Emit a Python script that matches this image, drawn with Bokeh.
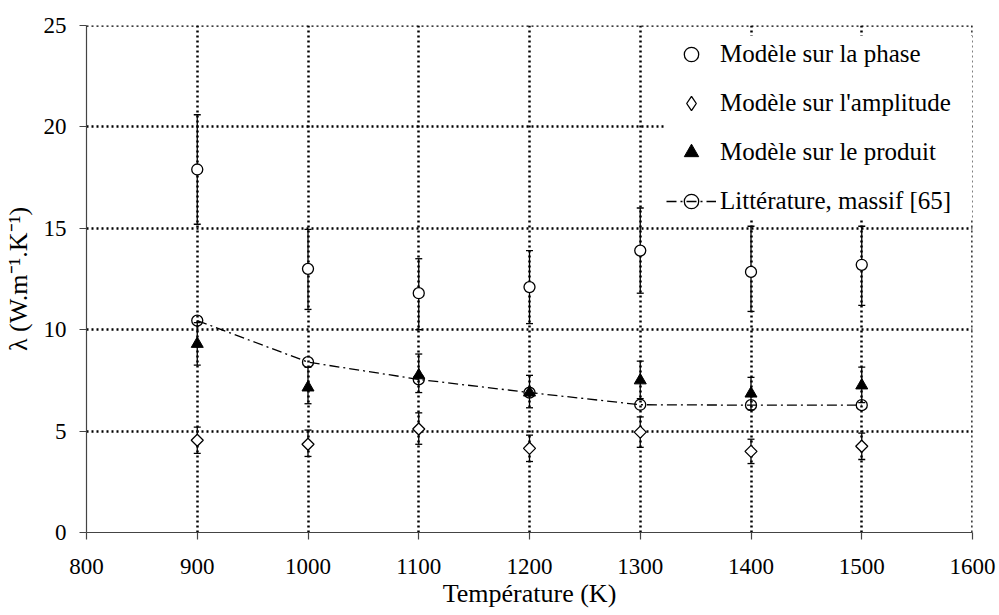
import numpy as np
from bokeh.plotting import figure
from bokeh.models import (Range1d, SingleIntervalTicker, ColumnDataSource, Whisker,
                          TeeHead, Legend, LegendItem, Span)
from bokeh.embed import file_html
from bokeh.resources import INLINE

# ---- data ----
temperature = [900, 1000, 1100, 1200, 1300, 1400, 1500]

phase = [17.9, 13.0, 11.8, 12.1, 13.9, 12.85, 13.2]
phase_lo = [15.2, 11.0, 10.0, 10.3, 11.8, 10.9, 11.2]
phase_hi = [20.6, 14.95, 13.5, 13.9, 16.0, 15.1, 15.1]

amplitude = [4.55, 4.35, 5.1, 4.15, 4.95, 4.0, 4.25]
amplitude_lo = [3.9, 3.75, 4.35, 3.5, 4.2, 3.4, 3.6]
amplitude_hi = [5.2, 5.05, 5.9, 4.8, 5.7, 4.6, 4.9]

produit = [9.3, 7.15, 7.75, 6.9, 7.5, 6.85, 7.25]
produit_lo = [8.25, 6.35, 6.9, 6.15, 6.6, 6.05, 6.4]
produit_hi = [10.35, 8.15, 8.8, 7.75, 8.45, 7.65, 8.15]

litterature = [10.45, 8.4, 7.55, 6.9, 6.3, 6.28, 6.28]

x_start, x_end, x_step = 800, 1600, 100
y_start, y_end, y_step = 0, 25, 5

FONT = "'Liberation Serif', 'Times New Roman', serif"
GRID_DASH = "2 3"
GRID_W = 2.5

p = figure(width=999, height=615,
           x_range=Range1d(x_start, x_end), y_range=Range1d(y_start, y_end),
           output_backend="svg", toolbar_location=None,
           min_border_left=86, min_border_right=27,
           min_border_top=25, min_border_bottom=83,
           outline_line_color=None,
           background_fill_color="white", border_fill_color="white")

p.xaxis.ticker = SingleIntervalTicker(interval=x_step)
p.yaxis.ticker = SingleIntervalTicker(interval=y_step)

for ax in (p.xaxis, p.yaxis):
    ax.axis_line_color = "#444444"
    ax.axis_line_width = 1.2
    ax.major_tick_line_color = "#444444"
    ax.major_tick_line_width = 1.2
    ax.major_tick_out = 7
    ax.major_tick_in = 0
    ax.minor_tick_line_color = None
    ax.major_label_text_font = FONT
    ax.major_label_text_font_size = "23px"
    ax.major_label_text_color = "black"
    ax.axis_label_text_font = FONT
    ax.axis_label_text_font_size = "26px"
    ax.axis_label_text_font_style = "normal"
    ax.axis_label_text_color = "black"

p.xaxis.axis_label = "Température (K)"
p.yaxis.axis_label = "λ (W.m⁻¹.K⁻¹)"
p.xaxis.major_label_standoff = 19
p.xaxis.axis_label_standoff = 2
p.yaxis.major_label_standoff = 13
p.yaxis.axis_label_standoff = 8

for g in (p.xgrid, p.ygrid):
    g.grid_line_color = "black"
    g.grid_line_width = GRID_W
    g.grid_line_dash = GRID_DASH

# right-hand gridline at the range end (hidden by the legend box)
p.add_layout(Span(location=x_end, dimension="height", line_color="black",
                  line_width=GRID_W, line_dash=GRID_DASH, level="underlay"))

# ---- error bars ----
def add_whisker(lo, hi):
    src = ColumnDataSource(dict(x=temperature, lo=lo, hi=hi))
    w = Whisker(source=src, base="x", lower="lo", upper="hi", dimension="height",
                line_color="black", line_width=1.3, level="underlay",
                upper_head=TeeHead(size=7, line_color="black", line_width=1.3),
                lower_head=TeeHead(size=7, line_color="black", line_width=1.3))
    p.add_layout(w)

add_whisker(phase_lo, phase_hi)
add_whisker(amplitude_lo, amplitude_hi)
add_whisker(produit_lo, produit_hi)

# ---- series ----
r_lit_line = p.line(temperature, litterature, line_color="black", line_width=1.3,
                    line_dash="10 4 2 4")
r_lit_pts = p.scatter(temperature, litterature, marker="circle", size=11,
                      line_color="black", line_width=1.3, fill_alpha=0)
r_phase = p.scatter(temperature, phase, marker="circle", size=11,
                    line_color="black", line_width=1.3, fill_color="white")
p.scatter(temperature, amplitude, marker="square", angle=np.pi / 4, size=8.5,
          line_color="black", line_width=1.3, fill_color="white")
# legend proxy for the diamond (the legend does not draw rotated markers)
r_ampl_legend = p.scatter(temperature, amplitude, marker="diamond", size=12,
                          line_color="black", line_width=1.3, fill_color="white",
                          visible=False)
r_prod = p.scatter(temperature, produit, marker="triangle", size=12,
                   line_color="black", line_width=1, fill_color="black")

legend = Legend(items=[
    LegendItem(label="Modèle sur la phase", renderers=[r_phase]),
    LegendItem(label="Modèle sur l'amplitude", renderers=[r_ampl_legend]),
    LegendItem(label="Modèle sur le produit", renderers=[r_prod]),
    LegendItem(label="Littérature, massif [65]", renderers=[r_lit_line, r_lit_pts]),
], location=(580, 313), margin=0, padding=6, spacing=13,
    glyph_width=50, glyph_height=36, label_height=36, label_width=260,
    label_standoff=4, label_text_font=FONT, label_text_font_size="25px",
    label_text_color="black", border_line_color=None,
    background_fill_color="white", background_fill_alpha=1.0)
p.add_layout(legend)

# top gridline at the range end, drawn over the legend box
p.add_layout(Span(location=y_end, dimension="width", line_color="black",
                  line_width=GRID_W, line_dash=GRID_DASH, level="overlay"))

open("out.html", "w").write(file_html(p, INLINE))
